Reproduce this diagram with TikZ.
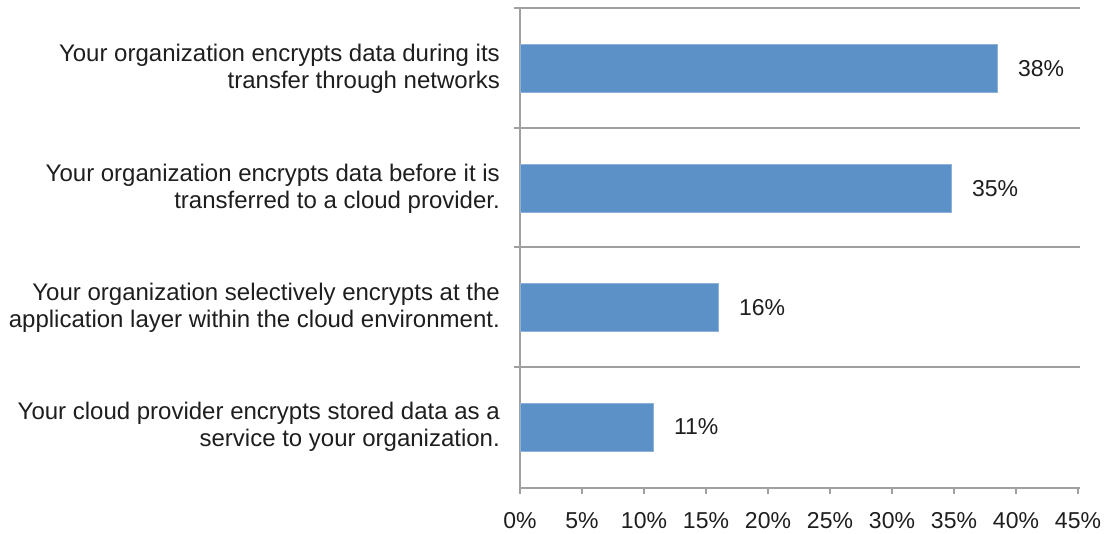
\documentclass[tikz,border=0pt]{standalone}
\usepackage{fontspec}
\setmainfont{Liberation Sans}
\usepackage{xcolor}
\definecolor{barblue}{HTML}{5B91C6}
\definecolor{gridgray}{HTML}{A0A0A0}
\definecolor{txtgray}{HTML}{1E1E1E}
\usetikzlibrary{positioning}

\tikzset{
    gridline/.style={draw=gridgray, line width=1.6pt},
    bar/.style={rectangle, fill=barblue, draw=barblue!70!white, line width=0.8pt,
        minimum height=48pt, inner sep=0pt, anchor=west},
    catlabel/.style={anchor=east, align=right, text=txtgray, inner sep=0pt,
        font=\fontsize{24}{27}\selectfont},
    vallabel/.style={text=txtgray, inner sep=0pt, font=\fontsize{23}{25}\selectfont},
}

\begin{document}
\begin{tikzpicture}[x=1pt, y=-1pt]
            \useasboundingbox (0, 0) rectangle (1105, 534);

            % grid and axes
            \foreach \y in {8, 128, 247, 367}
                \draw[gridline] (514, \y) to (1080, \y);
            \draw[gridline] (520, 8) to (520, 488);
            \draw[gridline] (520, 488) to (1080, 488);

            \foreach \p in {0, 5, ..., 45} {
                \draw[gridline] (520 + \p*12.4, 488) to (520 + \p*12.4, 494);
                \node[vallabel] (t\p) at (520 + \p*12.4, 521) {\p\%};
            }

            % categories
            \node[catlabel] (q1) at (500, 68.5) {Your organization encrypts data during its\\transfer through networks};
            \node[catlabel] (q2) at (500, 188.5) {Your organization encrypts data before it is\\transferred to a cloud provider.};
            \node[catlabel] (q3) at (500, 307.5) {Your organization selectively encrypts at the\\application layer within the cloud environment.};
            \node[catlabel] (q4) at (500, 427) {Your cloud provider encrypts stored data as a\\service to your organization.};

            % bars
            \node[bar, minimum width=477pt] (b1) at (520, 68.5) {};
            \node[bar, minimum width=431pt] (b2) at (520, 188.5) {};
            \node[bar, minimum width=198pt] (b3) at (520, 307.5) {};
            \node[bar, minimum width=133pt] (b4) at (520, 427) {};

            \node[vallabel, right=20pt of b1] (v1) {38\%};
            \node[vallabel, right=20pt of b2] (v2) {35\%};
            \node[vallabel, right=20pt of b3] (v3) {16\%};
            \node[vallabel, right=20pt of b4] (v4) {11\%};
\end{tikzpicture}
\end{document}
